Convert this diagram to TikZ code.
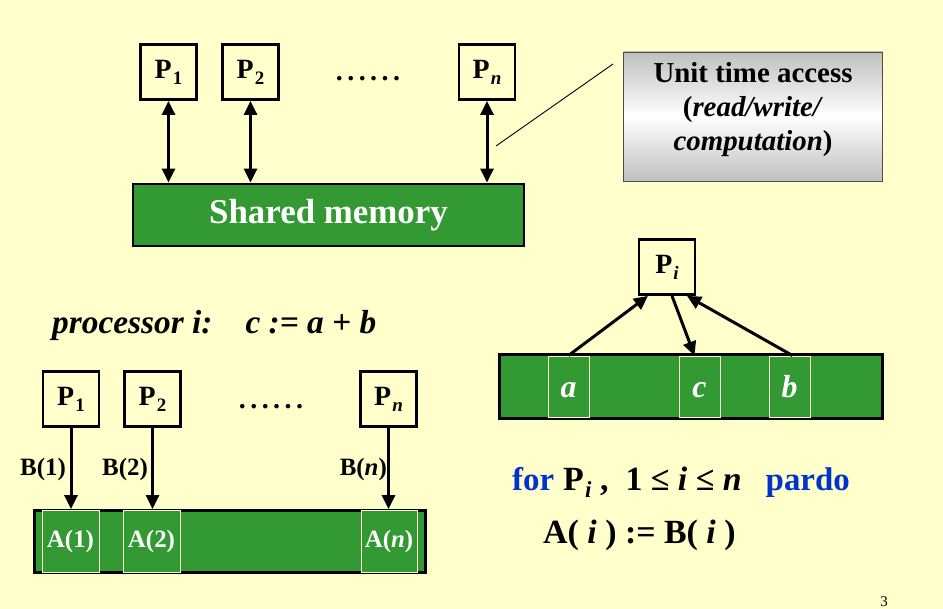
\documentclass[tikz,border=0pt]{standalone}
\usepackage{fontspec}
\setmainfont{Liberation Serif}
\usetikzlibrary{arrows.meta}
\definecolor{bg}{HTML}{FFFFCC}
\definecolor{mygreen}{HTML}{339933}
\definecolor{myblue}{HTML}{0033CC}
\newcommand\fs[1]{\fontsize{#1}{#1}\selectfont}
\newcommand\Psub[1]{P\kern0.04em\raisebox{-0.22em}{\scalebox{0.68}{#1}}}
\newcommand\sixdots{.\hspace{4.5pt}.\hspace{4.5pt}.\hspace{4.5pt}.\hspace{4.5pt}.\hspace{4.5pt}.}
\begin{document}
\begin{tikzpicture}[x=1bp,y=-1bp,
  pbox/.style={draw,line width=2.8bp,minimum width=56bp,minimum height=55bp,inner sep=0pt,font=\fs{28}\bfseries},
  membox/.style={draw,line width=2.8bp,fill=mygreen,inner sep=0pt},
  cellbox/.style={draw=bg,line width=0.9bp,fill=mygreen,inner sep=0pt,text=white},
  dbl/.style={line width=3bp,{Triangle[length=14bp,width=13bp]}-{Triangle[length=14bp,width=13bp]}},
  sgl/.style={line width=3bp,-{Triangle[length=14bp,width=13bp]}},
  lbl/.style={anchor=base east,inner sep=0pt,font=\fs{25}\bfseries},
  ctext/.style={anchor=base,inner sep=0pt,font=\fs{29}\bfseries},
]
\fill[bg] (0,0) rectangle (943,609);
\useasboundingbox (0,0) rectangle (943,609);

% ---------- top: shared memory ----------
\node[pbox] (t1) at (168.5,72) {\Psub{1}};
\node[pbox] (t2) at (250.5,72) {\Psub{2}};
\node[pbox] (tn) at (487,72) {\Psub{\textit{n}}};
\node[anchor=base,inner sep=0pt,font=\fs{28}\bfseries] (tdots) at (368,81) {\sixdots};
\node[membox,minimum width=391bp,minimum height=62bp,text=white,font=\fs{35}\bfseries] (mem) at (328.5,215) {Shared memory};
\draw[dbl] (t1.south) -- (t1.south |- mem.north);
\draw[dbl] (t2.south) -- (t2.south |- mem.north);
\draw[dbl] (tn.south) -- (tn.south |- mem.north);

% callout
\node[draw=gray!60!black,line width=0.8bp,minimum width=259bp,minimum height=129bp,
      top color=gray!50,bottom color=gray!50,middle color=white,inner sep=0pt] (call) at (753,116.5) {};
\node[ctext] (ct1) at (753,83) {Unit time access};
\node[ctext] (ct2) at (753,117) {(\textit{read/write/}};
\node[ctext] (ct3) at (753,151) {\textit{computation})};
\coordinate (pa) at (496,146);
\coordinate (pb) at (613,64);
\draw[line width=0.9bp] (pa) -- (pb);

% ---------- middle ----------
\node[anchor=base west,inner sep=0pt,font=\fs{33.5}\bfseries\itshape] (proc) at (52,333)
  {processor i:\hspace{33bp}c := a + b};

\node[pbox] (pi) at (667,267) {\Psub{\textit{i}}};
\node[membox,minimum width=383bp,minimum height=64bp] (bar) at (691,386.5) {};
\node[cellbox,minimum width=41bp,minimum height=61bp,text height=21bp,text depth=0pt,font=\fs{32}\bfseries\itshape] (ca) at (568.5,386.5) {a};
\node[cellbox,minimum width=41bp,minimum height=61bp,text height=21bp,text depth=0pt,font=\fs{32}\bfseries\itshape] (cc) at (699.5,386.5) {c};
\node[cellbox,minimum width=41bp,minimum height=61bp,text height=21bp,text depth=0pt,font=\fs{32}\bfseries\itshape] (cb) at (789.5,386.5) {b};
\draw[sgl] (ca.north) -- ([xshift=-19bp]pi.south);
\draw[sgl] ([xshift=5bp]pi.south) -- ([xshift=-5bp]cc.north);
\draw[sgl] ([xshift=3bp]cb.north) -- ([xshift=20bp]pi.south);

% ---------- bottom left ----------
\node[pbox] (b1) at (71,399) {\Psub{1}};
\node[pbox] (b2) at (152.5,399) {\Psub{2}};
\node[pbox] (bn) at (388.5,399) {\Psub{\textit{n}}};
\node[anchor=base,inner sep=0pt,font=\fs{28}\bfseries] (bdots) at (271,408) {\sixdots};
\node[membox,minimum width=391bp,minimum height=62bp] (arr) at (230,541.5) {};
\node[cellbox,minimum width=57bp,minimum height=62bp,font=\fs{25}\bfseries] (a1) at (70.5,541.5) {A(1)};
\node[cellbox,minimum width=57bp,minimum height=62bp,font=\fs{25}\bfseries] (a2) at (151.5,541.5) {A(2)};
\node[cellbox,minimum width=56bp,minimum height=62bp,font=\fs{25}\bfseries] (an) at (389,541.5) {A(\textit{n})};
\draw[sgl] (b1.south) -- (b1.south |- arr.north);
\draw[sgl] (b2.south) -- (b2.south |- arr.north);
\draw[sgl] (bn.south) -- (bn.south |- arr.north);
\node[lbl] (l1) at (66,475) {B(1)};
\node[lbl] (l2) at (148,475) {B(2)};
\node[lbl] (ln) at (387,475) {B(\textit{n})};

% ---------- bottom right ----------
\node[anchor=base west,inner sep=0pt,font=\fs{34}\bfseries] (forl) at (512,490)
  {{\fs{33}\color{myblue}for}\hspace{9bp}\Psub{\textit{i}} ,\ \ 1 ≤ \textit{i} ≤ \textit{n}\hspace{24bp}{\fs{33}\color{myblue}pardo}};
\node[anchor=base west,inner sep=0pt,font=\fs{34}\bfseries] (assign) at (543,543)
  {A( \textit{i} ) := B( \textit{i} )};
\node[anchor=base,inner sep=0pt,font=\fs{15}] (pg) at (884,606) {3};
\end{tikzpicture}
\end{document}
